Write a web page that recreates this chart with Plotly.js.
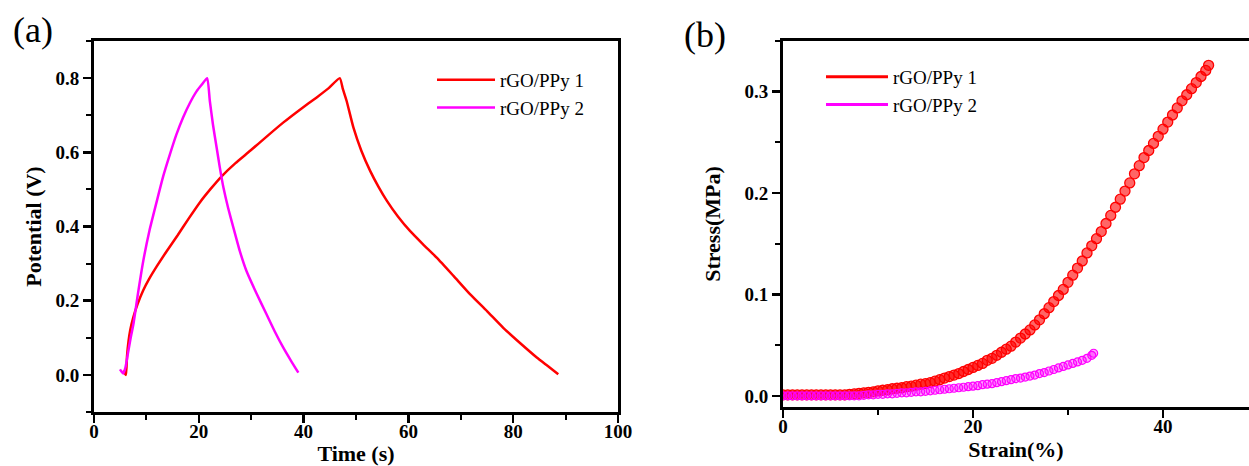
<!DOCTYPE html>
<html>
<head>
<meta charset="utf-8">
<script src="https://cdn.plot.ly/plotly-3.0.1.min.js"></script>
<style>html,body{margin:0;padding:0;background:#fff;}#chart{width:1249px;height:466px;}</style>
</head>
<body>
<div id="chart"></div>
<script>
// ---------- Panel (a): galvanostatic charge/discharge ----------
const seriesNames = ["rGO/PPy 1", "rGO/PPy 2"];
const timeA1 = [5.6, 5.9, 6.1, 6.3, 6.6, 6.9, 7.5, 8.3, 9.4, 10.5, 12, 13.9, 16, 18, 20.2, 22.3, 24.4, 27, 29.8, 33, 36.1, 39.3, 42.5, 44.8, 46.9,
                47.5, 48.2, 49.5, 51, 52.7, 54.3, 55.9, 58, 60.3, 62.8, 65.4, 68.6, 71.8, 75, 78.1, 81.3, 84.5, 86.6, 88.6];
const potA1  = [0.012, 0.004, 0.0, 0.05, 0.092, 0.12, 0.155, 0.19, 0.228, 0.258, 0.293, 0.334, 0.377, 0.42, 0.465, 0.502, 0.536, 0.571, 0.604, 0.643, 0.68, 0.715, 0.748, 0.773, 0.800,
                0.77, 0.739, 0.667, 0.605, 0.55, 0.507, 0.469, 0.427, 0.388, 0.352, 0.316, 0.267, 0.217, 0.172, 0.127, 0.086, 0.047, 0.024, 0.002];
const timeA2 = [4.96, 5.3, 5.6, 6.0, 6.5, 7.0, 7.5, 8.4, 9.4, 10.6, 12, 13.2, 14.5, 15.7, 17, 18.3, 19.6, 20.6, 21.6,
                22.1, 22.7, 23.4, 24.0, 24.7, 25.6, 26.6, 27.8, 29.1, 31.0, 32.9, 34.5, 36.1, 37.6, 39.0];
const potA2  = [0.015, 0.008, 0.004, 0.02, 0.06, 0.10, 0.135, 0.22, 0.307, 0.39, 0.469, 0.535, 0.595, 0.647, 0.694, 0.733, 0.765, 0.783, 0.800,
                0.739, 0.675, 0.613, 0.56, 0.505, 0.45, 0.397, 0.335, 0.28, 0.22, 0.164, 0.117, 0.074, 0.038, 0.006];

// ---------- Panel (b): stress-strain ----------
const strainB1 = [0,0.5,1,1.5,2,2.5,3,3.5,4,4.5,5,5.5,6,6.5,7,7.5,8,8.5,9,9.5,10,10.5,11,11.5,12,12.5,13,13.5,14,14.5,15,15.5,16,16.5,17,17.5,18,18.5,19,19.5,
                  20,20.5,21,21.5,22,22.5,23,23.5,24,24.5,25,25.5,26,26.5,27,27.5,28,28.5,29,29.5,30,30.5,31,31.5,32,32.5,33,33.5,34,34.5,35,35.5,36,36.5,37,37.5,
                  38,38.5,39,39.5,40,40.5,41,41.5,42,42.5,43,43.5,44,44.5,44.8];
const stressB1 = [0.001,0.001,0.001,0.001,0.001,0.001,0.001,0.001,0.001,0.001,0.001,0.001,0.001,0.001,0.0015,0.002,0.0025,0.003,0.0035,0.004,
                  0.005,0.0055,0.006,0.007,0.0075,0.008,0.009,0.0095,0.0105,0.0115,0.012,0.013,0.0145,0.016,0.0175,0.019,0.0205,0.022,0.024,0.026,
                  0.028,0.030,0.032,0.035,0.037,0.040,0.043,0.046,0.049,0.053,0.057,0.061,0.065,0.070,0.075,0.081,0.087,0.093,0.099,0.105,
                  0.112,0.119,0.126,0.133,0.141,0.148,0.155,0.162,0.170,0.178,0.186,0.194,0.202,0.210,0.219,0.227,
                  0.235,0.242,0.249,0.256,0.263,0.270,0.277,0.284,0.291,0.297,0.303,0.309,0.315,0.321,0.326];
const strainB2 = [0,0.5,1,1.5,2,2.5,3,3.5,4,4.5,5,5.5,6,6.5,7,7.5,8,8.5,9,9.5,10,10.5,11,11.5,12,12.5,13,13.5,14,14.5,15,15.5,16,16.5,17,17.5,18,18.5,19,19.5,
                  20,20.5,21,21.5,22,22.5,23,23.5,24,24.5,25,25.5,26,26.5,27,27.5,28,28.5,29,29.5,30,30.5,31,31.5,32,32.5,32.7];
const stressB2 = [0,0,0,0,0,0,0,0,0,0,0,0,0,0,0,0,0,0.0005,0.001,0.001,0.0015,0.0015,0.002,0.002,0.0025,0.003,0.003,0.0035,0.004,0.004,
                  0.0045,0.005,0.0055,0.006,0.0065,0.007,0.0075,0.008,0.0085,0.009,0.0095,0.010,0.011,0.0115,0.012,0.013,0.014,0.015,0.016,0.017,
                  0.0175,0.0185,0.0195,0.0205,0.022,0.023,0.0245,0.026,0.0275,0.029,0.0305,0.032,0.0335,0.035,0.037,0.040,0.042];

const RED = "#ff0000", MAG = "#ff00ff";
const SERIF = "Liberation Serif";

const traces = [
  {x: timeA1, y: potA1, mode: "lines", name: seriesNames[0], line: {color: RED, width: 2.5, shape: "spline", smoothing: 0.5}, xaxis: "x", yaxis: "y", legend: "legend"},
  {x: timeA2, y: potA2, mode: "lines", name: seriesNames[1], line: {color: MAG, width: 2.5, shape: "spline", smoothing: 0.5}, xaxis: "x", yaxis: "y", legend: "legend"},
  {x: strainB1, y: stressB1, mode: "markers", name: seriesNames[0], showlegend: false, xaxis: "x2", yaxis: "y2",
   marker: {symbol: "circle", size: 10, color: "rgba(255,0,0,0.6)", line: {color: RED, width: 1.3}}},
  {x: strainB2, y: stressB2, mode: "markers", name: seriesNames[1], showlegend: false, xaxis: "x2", yaxis: "y2",
   marker: {symbol: "circle", size: 8, color: "rgba(255,0,255,0.35)", line: {color: MAG, width: 1.2}}},
  // legend-only entries for panel (b), drawn as lines like the original
  {x: [null], y: [null], mode: "lines", name: seriesNames[0], line: {color: RED, width: 3}, xaxis: "x2", yaxis: "y2", legend: "legend2"},
  {x: [null], y: [null], mode: "lines", name: seriesNames[1], line: {color: MAG, width: 3}, xaxis: "x2", yaxis: "y2", legend: "legend2"}
];

function tickFont() { return {family: SERIF, size: 19, color: "#000", weight: 700}; }
function titleFont() { return {family: SERIF, size: 22, color: "#000", weight: 700}; }
function minor(d) { return {dtick: d, ticks: "outside", ticklen: 5, tickwidth: 2, tickcolor: "#000"}; }
function ax(extra) {
  return Object.assign({
    showgrid: false, zeroline: false, showline: true, linecolor: "#000", linewidth: 3,
    ticks: "outside", ticklen: 8, tickwidth: 2.5, tickcolor: "#000", tickfont: tickFont(),
    fixedrange: true
  }, extra);
}
const W = 1155, H = 371; // plot area size in px (after margins)

const layout = {
  width: 1249, height: 466,
  margin: {l: 94, r: 0, t: 41, b: 54},
  paper_bgcolor: "#fff", plot_bgcolor: "#fff",
  font: {family: SERIF, color: "#000"},
  xaxis: ax({domain: [0, (618 - 94) / W], range: [0, 100], dtick: 20, tick0: 0, mirror: true, anchor: "y",
            minor: minor(10), ticklabelstandoff: -8,
            title: {text: "Time (s)", font: titleFont(), standoff: 6}}),
  yaxis: ax({domain: [0, 1], range: [-0.1, 0.9], dtick: 0.2, tick0: 0, tickformat: ".1f", mirror: true, anchor: "x",
            minor: minor(0.1),
            title: {text: "Potential (V)", font: titleFont(), standoff: 8}}),
  xaxis2: ax({domain: [(783 - 94) / W, 1], range: [0, (1249 - 783) / 9.5], dtick: 20, tick0: 0, mirror: true, anchor: "y2",
             minor: minor(10), ticklabelstandoff: -8,
             title: {text: "Strain(%)", font: titleFont(), standoff: 6}}),
  yaxis2: ax({domain: [5 / H, 1], range: [-0.011, 0.35], dtick: 0.1, tick0: 0, tickformat: ".1f", mirror: false, anchor: "x2",
             minor: minor(0.05),
             title: {text: "Stress(MPa)", font: titleFont(), standoff: 18}}),
  legend: {x: (432 - 94) / W, xanchor: "left", y: (412 - 61) / H, yanchor: "top", bgcolor: "rgba(0,0,0,0)", borderwidth: 0,
           font: {family: SERIF, size: 19, color: "#000"}, itemwidth: 58, tracegroupgap: 0},
  legend2: {x: (821 - 94) / W, xanchor: "left", y: (412 - 58) / H, yanchor: "top", bgcolor: "rgba(0,0,0,0)", borderwidth: 0,
           font: {family: SERIF, size: 19, color: "#000"}, itemwidth: 62, tracegroupgap: 0},
  annotations: [
    {text: "(a)", xref: "paper", yref: "paper", x: (33 - 94) / W, y: (412 - 30) / H, xanchor: "center", yanchor: "middle",
     showarrow: false, font: {family: SERIF, size: 36, color: "#000"}},
    {text: "(b)", xref: "paper", yref: "paper", x: (705 - 94) / W, y: (412 - 35) / H, xanchor: "center", yanchor: "middle",
     showarrow: false, font: {family: SERIF, size: 36, color: "#000"}}
  ],
  showlegend: true
};

Plotly.newPlot("chart", traces, layout, {displayModeBar: false, staticPlot: true});
</script>
</body>
</html>
